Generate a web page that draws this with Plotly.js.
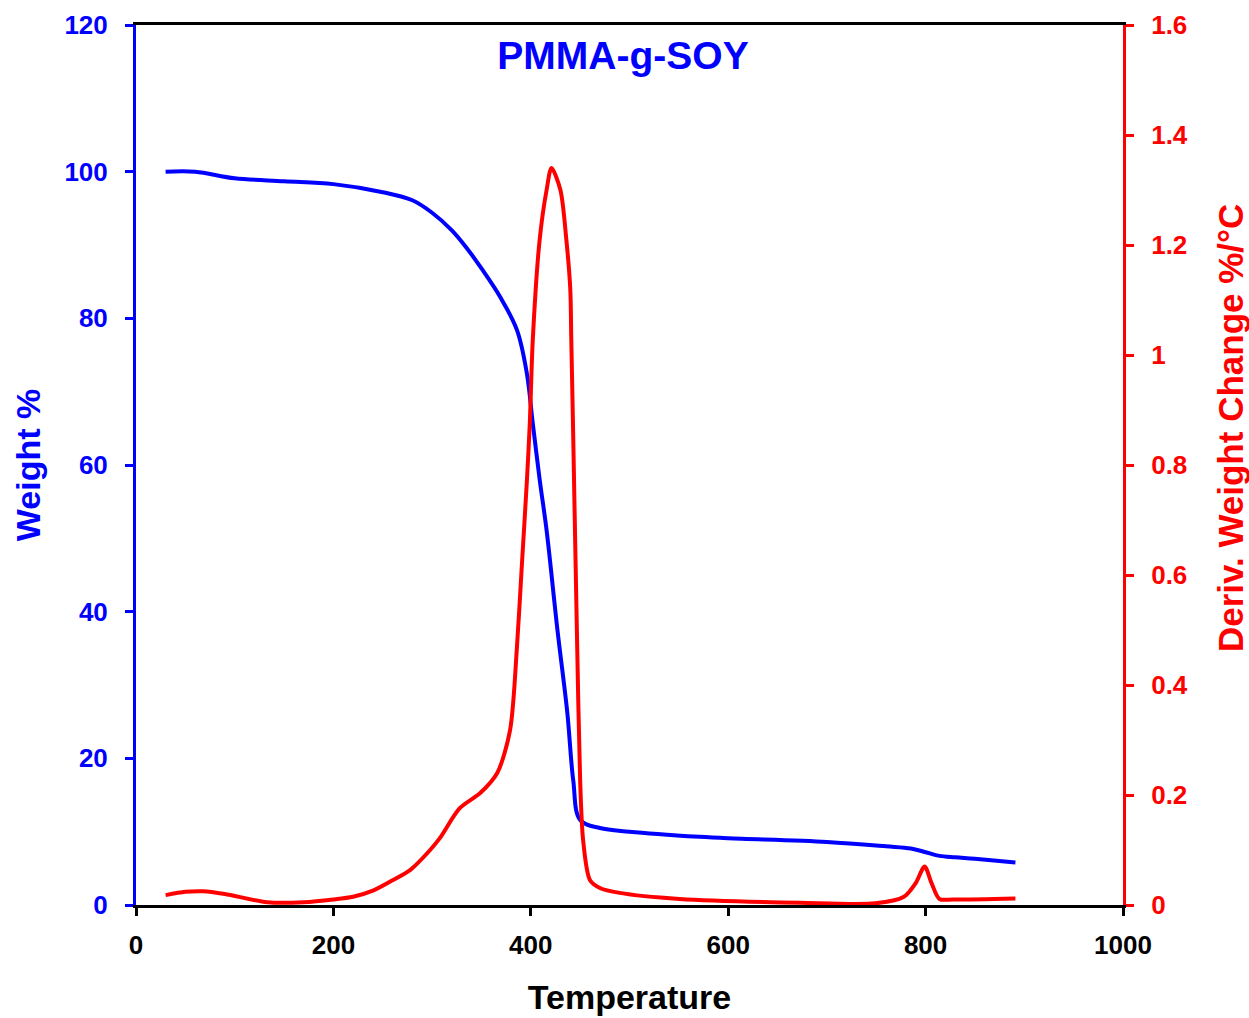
<!DOCTYPE html>
<html>
<head>
<meta charset="utf-8">
<script src="https://cdn.plot.ly/plotly-3.0.1.min.js"></script>
<style>html,body{margin:0;padding:0;background:#fff;}#chart{width:1249px;height:1018px;}</style>
</head>
<body>
<div id="chart"></div>
<script>
// Weight % (TGA) curve
const tempWeight = [30, 60, 100, 150, 200, 250, 280, 300, 320, 335, 350, 369, 386, 396, 402, 409, 416, 427, 437, 443, 450, 470, 500, 571, 600, 700, 760, 785, 800, 814, 830, 850, 891];
const weightPct  = [100, 100, 99.1, 98.7, 98.3, 97.2, 96.1, 94.4, 92.0, 89.6, 86.8, 82.9, 78.4, 72.5, 65.7, 58.0, 51.1, 37.5, 26.2, 17.0, 11.6, 10.5, 10.0, 9.3, 9.1, 8.6, 8.0, 7.7, 7.2, 6.7, 6.5, 6.3, 5.8];

// Derivative weight change curve
const tempDeriv = [30, 50, 68, 90, 133, 170, 200, 220, 240, 260, 278, 298, 308, 328, 349, 366, 379, 386, 391, 396, 399, 402, 409, 416, 421, 430, 436, 440, 441, 443, 447, 450, 453, 460, 470, 490, 551, 673, 749, 778, 790, 799, 806, 814, 828, 891];
const derivVal  = [0.018, 0.024, 0.025, 0.02, 0.005, 0.005, 0.01, 0.015, 0.026, 0.045, 0.064, 0.1, 0.122, 0.176, 0.204, 0.24, 0.318, 0.47, 0.62, 0.77, 0.876, 1.027, 1.21, 1.3, 1.34, 1.3, 1.21, 1.12, 1.03, 0.85, 0.47, 0.227, 0.118, 0.045, 0.031, 0.022, 0.011, 0.004, 0.003, 0.015, 0.04, 0.07, 0.04, 0.011, 0.01, 0.012];

const xTicks = [0, 200, 400, 600, 800, 1000];
const yTicks = [0, 20, 40, 60, 80, 100, 120];
const y2Ticks = [0, 0.2, 0.4, 0.6, 0.8, 1, 1.2, 1.4, 1.6];
const y2TickText = ['0', '0.2', '0.4', '0.6', '0.8', '1', '1.2', '1.4', '1.6'];

const FONT = 'Liberation Sans, Arial, sans-serif';
const BLUE = '#0000ff', RED = '#ff0000';

const traces = [
  {x: tempWeight, y: weightPct, type: 'scatter', mode: 'lines', name: 'Weight %',
   line: {color: BLUE, width: 4, shape: 'spline', smoothing: 1}, yaxis: 'y'},
  {x: tempDeriv, y: derivVal, type: 'scatter', mode: 'lines', name: 'Deriv. Weight Change',
   line: {color: RED, width: 4, shape: 'spline', smoothing: 0.8}, yaxis: 'y2'}
];

const layout = {
  width: 1249, height: 1018,
  margin: {l: 136, r: 126, t: 25, b: 113, pad: 0},
  paper_bgcolor: '#fff', plot_bgcolor: '#fff',
  showlegend: false,
  title: {text: 'PMMA-g-SOY', x: 0.4988, xref: 'container', xanchor: 'center',
          y: 1 - 55/1018, yref: 'container', yanchor: 'middle',
          font: {family: FONT, size: 39, color: BLUE, weight: 'bold'}},
  xaxis: {range: [0, 1000], tickvals: xTicks, showgrid: false, zeroline: false,
          showline: true, linecolor: '#000', linewidth: 3, mirror: true,
          ticks: 'outside', ticklen: 8, tickwidth: 3, tickcolor: '#000', ticklabelstandoff: 7,
          tickfont: {family: FONT, size: 26, color: '#000', weight: 'bold'},
          title: {text: 'Temperature', standoff: 26, font: {family: FONT, size: 34, color: '#000', weight: 'bold'}},
          automargin: false},
  yaxis: {range: [0, 120], tickvals: yTicks, showgrid: false, zeroline: false,
          showline: true, linecolor: BLUE, linewidth: 3,
          ticks: 'outside', ticklen: 8, tickwidth: 3, tickcolor: BLUE, ticklabelstandoff: 12,
          tickfont: {family: FONT, size: 26, color: BLUE, weight: 'bold'},
          title: {text: 'Weight %', standoff: 14, font: {family: FONT, size: 34, color: BLUE, weight: 'bold'}},
          automargin: false},
  yaxis2: {range: [0, 1.6], tickvals: y2Ticks, ticktext: y2TickText, overlaying: 'y', side: 'right',
           showgrid: false, zeroline: false,
           showline: true, linecolor: RED, linewidth: 3,
           ticks: 'outside', ticklen: 8, tickwidth: 3, tickcolor: RED, ticklabelstandoff: 12,
           tickfont: {family: FONT, size: 26, color: RED, weight: 'bold'},
           automargin: false},
  annotations: [
    {text: 'Deriv. Weight Change %/°C', xref: 'paper', yref: 'paper',
     x: 1 + (1230 - 1123) / 987, y: (905 - 428) / 880, xanchor: 'center', yanchor: 'middle',
     textangle: -90, showarrow: false,
     font: {family: FONT, size: 35, color: RED, weight: 'bold'}}
  ]
};

Plotly.newPlot('chart', traces, layout, {displayModeBar: false, staticPlot: true});
</script>
</body>
</html>
